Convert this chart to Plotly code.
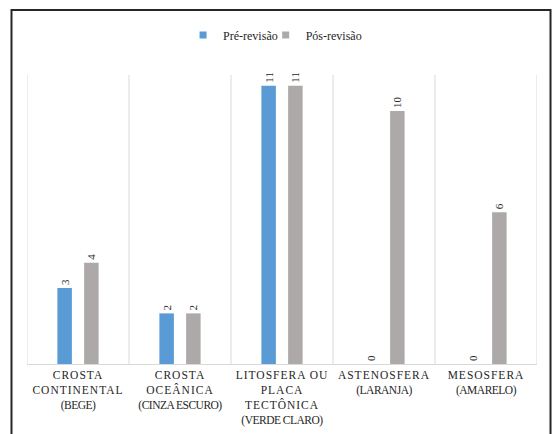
import plotly.graph_objects as go

# Categories (tick labels) and the two series of counts
categories = [
    "CROSTA<br>CONTINENTAL<br>(BEGE)",
    "CROSTA<br>OCEÂNICA<br>(CINZA ESCURO)",
    "LITOSFERA OU<br>PLACA<br>TECTÔNICA<br>(VERDE CLARO)",
    "ASTENOSFERA<br>(LARANJA)",
    "MESOSFERA<br>(AMARELO)",
]
pre_revisao = [3, 2, 11, 0, 0]
pos_revisao = [4, 2, 11, 10, 6]
series_names = ["Pré-revisão", "Pós-revisão"]
series_colors = ["#5B9BD5", "#ADA9A9"]


def spaced(label):
    # widen the capitalised lines, tighten the parenthesised ones
    parts = []
    for line in label.split("<br>"):
        if line.startswith("("):
            parts.append('<span style="letter-spacing:-0.5px">' + line + "</span>")
        else:
            parts.append('<span style="letter-spacing:1px">' + line + "</span>")
    return "<br>".join(parts)


tick_text = [spaced(c) for c in categories]
x_idx = list(range(len(categories)))

serif = "Liberation Serif"
text_color = "#262626"

fig = go.Figure()
for name, vals, color in zip(series_names, [pre_revisao, pos_revisao], series_colors):
    fig.add_trace(go.Bar(
        x=x_idx, y=vals, name=name, legendgroup=name, showlegend=False,
        marker=dict(color=color, line=dict(width=0)),
        text=[str(v) for v in vals], textposition="outside",
        textangle=-90, textfont=dict(family=serif, size=11, color=text_color),
        cliponaxis=False,
    ))
# small square legend keys, one legend box per series
legend_ids = ["legend", "legend2"]
for name, color, lg in zip(series_names, series_colors, legend_ids):
    fig.add_trace(go.Scatter(
        x=[None], y=[None], mode="markers", name=name, legendgroup=name,
        legend=lg, marker=dict(symbol="square", size=7, color=color),
    ))

# category separators
n = len(categories)
shapes = []
for k in range(n + 1):
    shapes.append(dict(type="line", xref="x", yref="paper",
                       x0=k - 0.5, x1=k - 0.5, y0=0, y1=1,
                       line=dict(color="#D9D9D9", width=1), layer="below"))
# outer frame
shapes.append(dict(type="rect", xref="paper", yref="paper",
                   x0=-0.0304, x1=1.0265, y0=-0.27, y1=1.225,
                   line=dict(color="#262626", width=2), fillcolor="rgba(0,0,0,0)"))

legend_style = dict(orientation="h", xanchor="left", y=1.138, yanchor="middle",
                    font=dict(family=serif, size=12, color=text_color),
                    itemwidth=30, bgcolor="rgba(0,0,0,0)")

fig.update_layout(
    width=556, height=434,
    template="none",
    paper_bgcolor="white", plot_bgcolor="white",
    margin=dict(l=27, r=19, t=75, b=70),
    barmode="group", bargap=0.476, bargroupgap=0.457,
    showlegend=True,
    legend=dict(x=0.306, **legend_style),
    legend2=dict(x=0.468, **legend_style),
    xaxis=dict(tickmode="array", tickvals=x_idx, ticktext=tick_text,
               range=[-0.5, n - 0.5], showgrid=False, zeroline=False,
               showline=True, linecolor="#D9D9D9", linewidth=1, ticks="",
               tickfont=dict(family=serif, size=11.5, color=text_color),
               automargin=False),
    yaxis=dict(range=[0, 11.42], visible=False, showgrid=False, zeroline=False,
               automargin=False),
    shapes=shapes,
)

fig.write_html("out.html")
